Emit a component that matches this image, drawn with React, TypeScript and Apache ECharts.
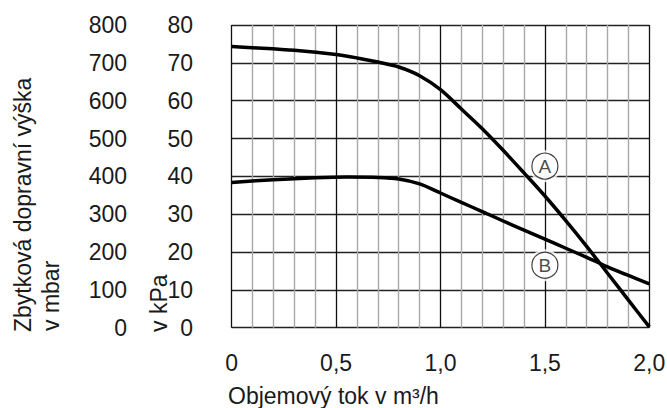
import React, { useEffect, useRef } from "react";
import * as echarts from "echarts";

const flowA = [0, 0.1, 0.3, 0.5, 0.6, 0.7, 0.8, 0.9, 1.0, 1.1, 1.2, 1.3, 1.4, 1.5, 1.6, 1.7, 1.8, 1.9, 2.0];
const kpaA = [74.3, 74.0, 73.3, 72.2, 71.3, 70.2, 68.9, 66.6, 62.9, 57.8, 52.6, 46.9, 40.9, 34.8, 28.3, 21.5, 14.4, 7.3, 0.2];
const flowB = [0, 0.2, 0.4, 0.55, 0.7, 0.8, 0.9, 1.0, 1.1, 1.2, 1.3, 1.4, 1.5, 1.6, 1.7, 1.8, 1.9, 2.0];
const kpaB = [38.4, 39.1, 39.6, 39.8, 39.7, 39.3, 38.0, 35.6, 33.1, 30.7, 28.2, 25.8, 23.4, 21.0, 18.6, 16.1, 13.8, 11.6];
const markerLabels = ["A", "B"];
const markerFlow = [1.5, 1.5];
const markerKpa = [42.7, 16.5];

const xTitle = "Objemový tok v m³/h";
const yTitle1 = "Zbytková dopravní výška";
const yTitle2 = "v mbar";
const yTitle3 = "v kPa";

const FONT = "Liberation Sans, Arial, sans-serif";
const TXT = "#1a1a1a";
const FS = 23;

export default function App() {
  const ref = useRef<HTMLDivElement>(null);
  useEffect(() => {
    if (!ref.current) return;
    const chart = echarts.init(ref.current, null, { renderer: "svg" });
    const lineStyle = { color: "#000", width: 3.5 };
    const markerData = markerFlow.map((x, i) => ({ value: [x, markerKpa[i]], name: markerLabels[i] }));
    chart.setOption({
      animation: false,
      backgroundColor: "#fff",
      textStyle: { fontFamily: FONT },
      grid: { left: 231.7, right: 17.7, top: 25, bottom: 80.3, outerBoundsMode: "none", containLabel: false },
      xAxis: {
        type: "value",
        min: 0,
        max: 2,
        interval: 0.5,
        axisLine: { show: false },
        axisTick: { show: false },
        axisLabel: {
          margin: 24,
          fontSize: FS,
          color: TXT,
          fontFamily: FONT,
          formatter: (v: number) => (v === 0 ? "0" : v.toFixed(1).replace(".", ",")),
        },
        splitLine: { show: true, lineStyle: { color: "#111", width: 1.3 } },
        minorTick: { show: false, splitNumber: 5 },
        minorSplitLine: { show: true, lineStyle: { color: "#a8a8a8", width: 1.4 } },
      },
      yAxis: [
        {
          type: "value",
          position: "left",
          min: 0,
          max: 80,
          interval: 10,
          axisLine: { show: false },
          axisTick: { show: false },
          axisLabel: { margin: 38.7, fontSize: FS, color: TXT, fontFamily: FONT },
          splitLine: { show: true, lineStyle: { color: "#222", width: 1.3 } },
        },
        {
          type: "value",
          position: "left",
          offset: 66,
          min: 0,
          max: 800,
          interval: 100,
          axisLine: { show: false },
          axisTick: { show: false },
          axisLabel: { margin: 38.7, fontSize: FS, color: TXT, fontFamily: FONT },
          splitLine: { show: false },
        },
      ],
      series: [
        {
          type: "line",
          data: flowA.map((x, i) => [x, kpaA[i]]),
          smooth: 0.3,
          showSymbol: false,
          lineStyle,
          z: 3,
        },
        {
          type: "line",
          data: flowB.map((x, i) => [x, kpaB[i]]),
          smooth: 0.3,
          showSymbol: false,
          lineStyle,
          z: 3,
        },
        {
          type: "scatter",
          data: markerData,
          symbol: "circle",
          symbolSize: 32,
          itemStyle: { color: "#fff" },
          z: 4,
        },
        {
          type: "scatter",
          data: markerData,
          symbol: "circle",
          symbolSize: 26,
          itemStyle: { color: "#fff", borderColor: "#111", borderWidth: 1.2 },
          label: {
            show: true,
            position: "inside",
            formatter: (p: any) => p.name,
            fontSize: 19,
            color: TXT,
            fontFamily: FONT,
          },
          z: 5,
        },
      ],
      graphic: [
        {
          type: "text",
          x: 23,
          y: 332,
          rotation: Math.PI / 2,
          style: { text: yTitle1, fontSize: FS, fill: TXT, fontFamily: FONT, align: "left", verticalAlign: "middle" },
        },
        {
          type: "text",
          x: 51,
          y: 331,
          rotation: Math.PI / 2,
          style: { text: yTitle2, fontSize: FS, fill: TXT, fontFamily: FONT, align: "left", verticalAlign: "middle" },
        },
        {
          type: "text",
          x: 159,
          y: 332,
          rotation: Math.PI / 2,
          style: { text: yTitle3, fontSize: FS, fill: TXT, fontFamily: FONT, align: "left", verticalAlign: "middle" },
        },
        {
          type: "text",
          x: 228,
          y: 395.5,
          style: { text: xTitle, fontSize: FS, fill: TXT, fontFamily: FONT, align: "left", verticalAlign: "middle" },
        },
      ],
    });
    return () => chart.dispose();
  }, []);
  return <div ref={ref} style={{ width: 667, height: 408, position: "absolute", left: 0, top: 0 }} />;
}
